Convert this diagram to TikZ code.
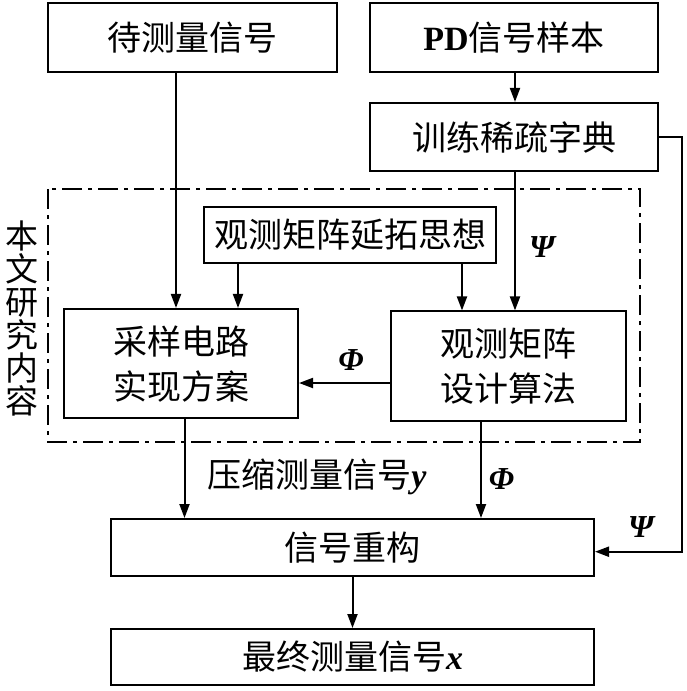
\documentclass[tikz,border=0pt]{standalone}
\usepackage{fontspec}
\setmainfont{Liberation Serif}
\newfontfamily\cjk{Noto Sans CJK SC}
\usetikzlibrary{arrows.meta}
\tikzset{
  box/.style={draw, line width=2pt, rectangle, inner sep=0pt, font=\cjk\fontsize{34}{45}\selectfont, align=center},
  arr/.style={line width=2pt, -{Triangle[length=14pt,width=10pt]}},
  ln/.style={line width=2pt},
  lab/.style={font=\fontsize{32}{34}\selectfont\bfseries\itshape, inner sep=0pt},
  clab/.style={font=\cjk\fontsize{34}{36}\selectfont, inner sep=0pt},
  dashdot/.style={line width=2pt, dash pattern=on 20pt off 6pt on 4pt off 6pt}
}
\begin{document}
\begin{tikzpicture}[x=1pt,y=-1pt]
\useasboundingbox (0,0) rectangle (687,691);
\node[box, minimum width=289pt, minimum height=69pt] (A) at (192.3,37.5) {待测量信号};
\node[box, minimum width=288pt, minimum height=69pt] (B) at (514,37.5) {{\rmfamily\bfseries PD}信号样本};
\node[box, minimum width=288pt, minimum height=68.5pt] (C) at (514,137.2) {训练稀疏字典};
\draw[dashdot] (48,189) rectangle (640,442);
\node[box, minimum width=292pt, minimum height=55.5pt] (D) at (350,234.8) {观测矩阵延拓思想};
\node[box, minimum width=234pt, minimum height=109.5pt] (E) at (181,363.7) {采样电路\\实现方案};
\node[box, minimum width=235pt, minimum height=109.5pt] (F) at (508.5,366.2) {观测矩阵\\设计算法};
\node[box, minimum width=483pt, minimum height=57pt] (G) at (352.5,547.5) {信号重构};
\node[box, minimum width=483pt, minimum height=56pt] (H) at (352.5,657) {最终测量信号{\rmfamily\bfseries\itshape x}};
\node[clab, align=center, font=\cjk\fontsize{33}{33}\selectfont] (V) at (22,318.5) {本\\文\\研\\究\\内\\容};
\coordinate (xa) at (176,0);
\coordinate (xb) at (515,0);
\coordinate (xd1) at (238,0);
\coordinate (xd2) at (462,0);
\coordinate (xe) at (184.5,0);
\coordinate (xf) at (481,0);
\coordinate (yr) at (0,383);
\coordinate (R1) at (682,137);
\coordinate (R2) at (682,551.7);
\draw[arr] (A.south -| xa) -- (E.north -| xa);
\draw[arr] (B.south -| xb) -- (C.north -| xb);
\draw[arr] (C.south -| xb) -- (F.north -| xb);
\draw[arr] (D.south -| xd1) -- (E.north -| xd1);
\draw[arr] (D.south -| xd2) -- (F.north -| xd2);
\draw[arr] (F.west |- yr) -- (E.east |- yr);
\draw[arr] (E.south -| xe) -- (G.north -| xe);
\draw[arr] (F.south -| xf) -- (G.north -| xf);
\draw[arr] (C.east |- R1) -- (R1) -- (R2) -- (G.east |- R2);
\draw[arr] (G) -- (H);
\node[lab] (l1) at (542,247) {Ψ};
\node[lab] (l2) at (351,360) {Φ};
\node[lab] (l3) at (501.5,479) {Φ};
\node[lab] (l4) at (641,527) {Ψ};
\node[clab] (l5) at (317,477) {压缩测量信号{\rmfamily\bfseries\itshape y}};
\end{tikzpicture}
\end{document}
